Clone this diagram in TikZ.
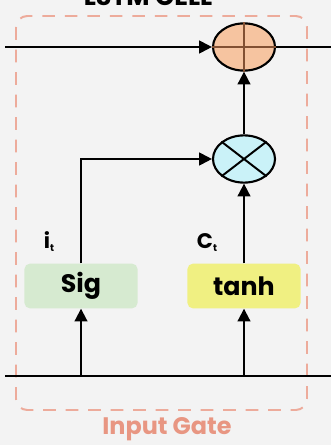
\documentclass[tikz,border=0pt]{standalone}
\usepackage{fontspec}
\usepackage{tikz}
\usetikzlibrary{positioning, shapes, arrows.meta, calc}
\newfontfamily\popfont{Poppins}
\definecolor{bggray}{RGB}{243,243,243}
\definecolor{salmon}{RGB}{232,150,130}
\definecolor{peach}{RGB}{246,196,160}
\definecolor{brownline}{RGB}{130,80,50}
\definecolor{icecyan}{RGB}{202,242,248}
\definecolor{sigreen}{RGB}{214,234,208}
\definecolor{tanhyellow}{RGB}{240,240,130}

\tikzset{
  opnode/.style={ellipse, draw=black, line width=1.5pt, minimum width=1.55cm, minimum height=1.18cm, inner sep=0pt},
  actbox/.style={rounded corners=4pt, minimum width=2.83cm, minimum height=1.12cm, font=\popfont\bfseries\fontsize{18}{20}\selectfont},
  sublabel/.style={font=\popfont\bfseries\fontsize{15}{17}\selectfont, anchor=base west},
  wire/.style={line width=1.4pt, -{Triangle[length=3.2mm, width=3.2mm]}},
  plainwire/.style={line width=1.4pt}
}

\begin{document}
\begin{tikzpicture}[x=0.025cm, y=-0.025cm]
      % canvas
      \fill[bggray] (0,0) rectangle (331,445);
      \useasboundingbox (0,0) rectangle (331,445);
      \clip (0,0) rectangle (331,445);

      % title, cut off at the top
      \node[anchor=base, font=\popfont\bfseries\fontsize{18}{20}\selectfont] (title) at (148,6) {LSTM CELL};

      % gate frame
      \draw[salmon!80, line width=1.4pt, dash pattern=on 9pt off 7pt, rounded corners=8pt] (16,16) rectangle (307,410);
      \node[text=salmon, font=\popfont\bfseries\fontsize{17}{19}\selectfont] (gatename) at (167,429) {Input Gate};

      % operations
      \node[opnode, fill=peach] (plus) at (244,47) {};
      \draw[brownline, line width=1pt] (plus.north) -- (plus.south) (plus.west) -- (plus.east);
      \node[opnode, fill=icecyan] (times) at (244,159) {};
      \draw[line width=1.4pt] (times.north west) -- (times.south east) (times.north east) -- (times.south west);

      % activations
      \node[actbox, fill=sigreen] (sig) at (81,286) {Sig};
      \node[actbox, fill=tanhyellow] (tanh) at (244,286) {tanh};
      \node[sublabel] (it) at (39,248) {i\textsubscript{\scriptsize t}};
      \node[sublabel] (ct) at (192,248) {C\textsubscript{\scriptsize t}};

      % cell state line
      \coordinate (cin) at (5,47);
      \coordinate (cout) at (331,47);
      \draw[wire] (cin) -- (plus);
      \draw[plainwire] (plus) -- (cout);

      % input line
      \coordinate (hin) at (5,376);
      \coordinate (hout) at (331,376);
      \draw[plainwire] (hin) -- (hout);
      \coordinate (hsig) at (81,376);
      \coordinate (htanh) at (244,376);
      \draw[wire] (hsig) -- (sig);
      \draw[wire] (htanh) -- (tanh);

      % into the gate
      \draw[wire] (sig.north) |- (times.west);
      \draw[wire] (tanh.north) -- (times.south);
      \draw[wire] (times.north) -- (plus.south);
    \end{tikzpicture}
\end{document}
